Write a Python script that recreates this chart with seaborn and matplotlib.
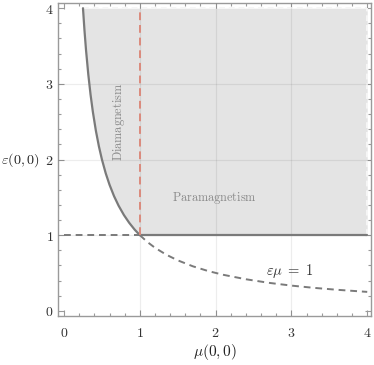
import matplotlib
matplotlib.use("Agg")
import matplotlib.pyplot as plt
import numpy as np
import seaborn as sns

# ── data ─────────────────────────────────────────────────────────────────
# solid branch of eps*mu = 1 (mu from 0.25 to 1)
mu_dia = [0.25, 0.27, 0.29, 0.32, 0.35, 0.38, 0.42, 0.46, 0.50, 0.55,
          0.60, 0.66, 0.72, 0.79, 0.86, 0.93, 1.00]
eps_dia = [4.000, 3.704, 3.448, 3.125, 2.857, 2.632, 2.381, 2.174, 2.000,
           1.818, 1.667, 1.515, 1.389, 1.266, 1.163, 1.075, 1.000]
# dashed branch of eps*mu = 1 (mu from 1 to 4)
mu_hyp = [1.00, 1.10, 1.20, 1.35, 1.50, 1.70, 1.90, 2.10, 2.40, 2.70,
          3.00, 3.30, 3.60, 4.00]
eps_hyp = [1.000, 0.909, 0.833, 0.741, 0.667, 0.588, 0.526, 0.476, 0.417,
           0.370, 0.333, 0.303, 0.278, 0.250]
# flat boundary eps = 1
mu_flat_dash = [0.0, 1.0]
mu_flat_solid = [1.0, 4.0]
eps_flat = [1.0, 1.0]
# red separator mu = 1
mu_sep = [1.0, 1.0]
eps_sep = [1.0, 4.0]
eps_top = 4.0
mu_right = 4.0

ticks = [0, 1, 2, 3, 4]

# ── style ────────────────────────────────────────────────────────────────
sns.set_theme(style="ticks")
plt.rcParams["mathtext.fontset"] = "cm"
plt.rcParams["font.family"] = ["DejaVu Serif"]

frame = "#9a9a9a"
curve = "#7a7a7a"

fig = plt.figure(figsize=(3.74, 3.65), dpi=100)
ax = fig.add_axes([0.155, 0.134, 0.837, 0.858])

# shaded region above both boundaries
fill_mu = mu_dia + mu_flat_solid[1:]
fill_lo = eps_dia + eps_flat[1:]
ax.fill_between(fill_mu, fill_lo, eps_top, color="#e4e4e4", lw=0, zorder=1)
ax.plot([mu_dia[0], mu_right], [eps_top, eps_top], color="#f6f6f6",
        ls=(0, (3, 2)), lw=1.4, zorder=2)
ax.plot([mu_right, mu_right], [1.0, eps_top], color="#f6f6f6",
        ls=(0, (3, 2)), lw=1.4, zorder=2)

# grid on top of fill
for v in [1, 2, 3]:
    ax.axvline(v, color="black", alpha=0.07, lw=0.9, zorder=3)
    ax.axhline(v, color="black", alpha=0.07, lw=0.9, zorder=3)

sns.lineplot(x=mu_dia, y=eps_dia, ax=ax, color=curve, lw=1.6, zorder=5)
sns.lineplot(x=mu_flat_solid, y=eps_flat, ax=ax, color=curve, lw=1.6, zorder=5)
sns.lineplot(x=mu_flat_dash, y=eps_flat, ax=ax, color=curve, lw=1.4,
             linestyle=(0, (3.5, 2.5)), zorder=5)
sns.lineplot(x=mu_hyp, y=eps_hyp, ax=ax, color=curve, lw=1.4,
             linestyle=(0, (3.5, 2.5)), zorder=5)
sns.lineplot(x=mu_sep, y=eps_sep, ax=ax, color="#db8a7c", lw=1.4,
             linestyle=(0, (4, 2.5)), estimator=None, sort=False, zorder=6)

# annotations
ax.text(0.72, 2.50, r"$\mathrm{Diamagnetism}$", rotation=90, color="#8a8a8a",
        fontsize=8.8, ha="center", va="center", zorder=7)
ax.text(1.99, 1.49, r"$\mathrm{Paramagnetism}$", color="#8a8a8a",
        fontsize=8.8, ha="center", va="center", zorder=7)
ax.text(2.97, 0.52, r"$\varepsilon\mu\;=\;1$", color="#333333",
        fontsize=10.5, ha="center", va="center", zorder=7)

# frame and ticks
ax.set_xlim(-0.08, 4.05)
ax.set_ylim(-0.07, 4.07)
ax.set_xticks(ticks)
ax.set_yticks(ticks)
ax.set_xticklabels([f"${t}$" for t in ticks])
ax.set_yticklabels([f"${t}$" for t in ticks])
ax.set_xticks(np.arange(0, 4.01, 0.2), minor=True)
ax.set_yticks(np.arange(0, 4.01, 0.2), minor=True)
ax.tick_params(which="both", direction="in", top=True, right=True,
               color=frame, width=0.8, labelsize=10, labelcolor="#333333")
ax.tick_params(which="major", length=4.5)
ax.tick_params(which="minor", length=2.5)
ax.tick_params(axis="x", pad=7)
ax.tick_params(axis="y", pad=3)
for s in ax.spines.values():
    s.set_color(frame)
    s.set_linewidth(1.0)

ax.set_xlabel(r"$\mu(0,0)$", fontsize=11, color="#222222")
ax.xaxis.set_label_coords(0.5, -0.115)
ax.xaxis.label.set_va("center")
ax.set_ylabel(r"$\varepsilon(0,0)$", fontsize=10.2, color="#222222",
              rotation=0, ha="left", va="center")
ax.yaxis.set_label_coords(-0.182, 0.498)

fig.savefig("out.png", dpi=100)
